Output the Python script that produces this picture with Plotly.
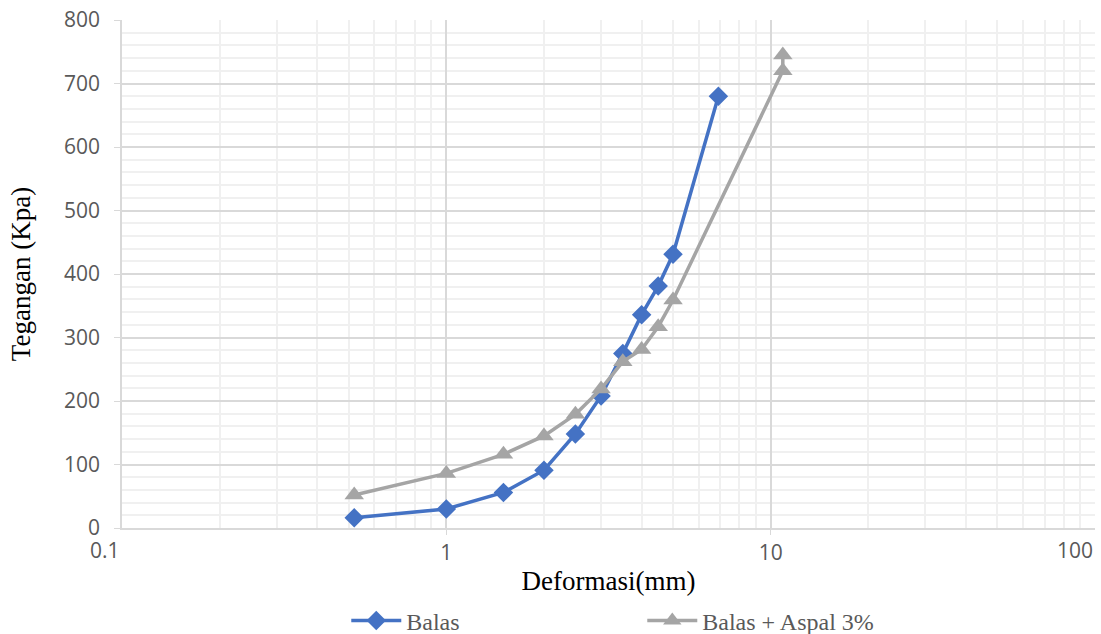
import math
import plotly.graph_objects as go

# Data
balas_x = [0.52, 1.0, 1.5, 2.0, 2.5, 3.0, 3.5, 4.0, 4.5, 5.0, 6.9]
balas_y = [16, 30, 56, 91, 148, 208, 275, 336, 381, 431, 680]

aspal_x = [0.52, 1.0, 1.5, 2.0, 2.5, 3.0, 3.5, 4.0, 4.5, 5.0, 10.9, 10.9]
aspal_y = [52, 86, 116, 145, 179, 219, 262, 281, 317, 359, 720, 745]

x_ticks_inner = [1, 10]
x_tick_text_inner = ["1", "10"]
x_edge_ticks = [0.1, 100]
x_edge_text = ["0.1", "100"]
x_minor = [m * d for d in (0.1, 1, 10) for m in range(2, 10)]

blue = "#4472C4"
gray = "#A5A5A5"

fig = go.Figure()
fig.add_trace(go.Scatter(
    x=balas_x, y=balas_y, mode="lines+markers", name="Balas",
    line=dict(color=blue, width=3.5),
    marker=dict(symbol="diamond", size=15, color=blue),
))
fig.add_trace(go.Scatter(
    x=aspal_x, y=aspal_y, mode="lines+markers", name="Balas + Aspal 3%",
    line=dict(color=gray, width=3.5),
    marker=dict(symbol="triangle-up", size=17, color=gray),
))

tick_font = dict(family="Open Sans", size=21, color="#595959")
title_font = dict(family="Liberation Serif", size=27, color="#000000")

fig.update_layout(
    width=1101, height=634,
    margin=dict(l=122, r=6, t=20, b=106, autoexpand=False),
    paper_bgcolor="white", plot_bgcolor="white",
    showlegend=True,
    legend=dict(
        orientation="h", x=0.2305, xanchor="left", y=-0.183, yanchor="middle",
        font=dict(family="Liberation Serif", size=24, color="#595959"),
        entrywidth=231, entrywidthmode="pixels",
        itemwidth=50,
    ),
)

# edge tick labels kept inside the chart, as in the original
for xv, txt in zip(x_edge_ticks, x_edge_text):
    fig.add_annotation(
        x=math.log10(xv), y=0, xref="x", yref="y", text=txt,
        showarrow=False, xanchor="right", yanchor="top", yshift=-6,
        font=tick_font,
    )

fig.update_xaxes(
    type="log", range=[-1, 2],
    tickmode="array", tickvals=x_ticks_inner, ticktext=x_tick_text_inner,
    tickfont=tick_font,
    showgrid=True, gridcolor="#D9D9D9", gridwidth=1.5,
    minor=dict(tickmode="array", tickvals=x_minor, showgrid=True,
               gridcolor="#F0F0F0", gridwidth=1.5, ticks=""),
    showline=True, linecolor="#D9D9D9", linewidth=1.5,
    ticks="outside", ticklen=5, tickcolor="#D9D9D9",
    zeroline=False,
    title=dict(text="Deformasi(mm)", font=title_font, standoff=6),
)
fig.update_yaxes(
    range=[0, 800], dtick=100, tick0=0,
    tickfont=tick_font, ticklabelstandoff=10,
    showgrid=True, gridcolor="#D9D9D9", gridwidth=1.5,
    minor=dict(dtick=20, showgrid=True, gridcolor="#F0F0F0", gridwidth=1.5, ticks=""),
    showline=True, linecolor="#D9D9D9", linewidth=1.5,
    ticks="outside", ticklen=6, tickcolor="#D9D9D9",
    zeroline=False,
    title=dict(text="Tegangan (Kpa)", font=title_font, standoff=26),
)

fig.write_html("out.html", config={"displayModeBar": False},
               post_script="document.body.style.margin='0';")
